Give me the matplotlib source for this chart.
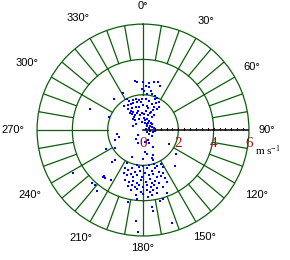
import numpy as np
import matplotlib
matplotlib.use('Agg')
import matplotlib.pyplot as plt

plt.rcParams['mathtext.default'] = 'regular'

# 风的东西向分量 u 和南北向分量 v (m/s)
u = [-0.45, -0.36, 0.02, 0.36, 0.64, 0.85, 0.98, 0.17, 0.36, -0.04, 0.08, 0.43, 0.21, 0.51,
     0.66, -1.11, -1.62, -0.92, -0.77, -0.58, -0.42, -0.25, -0.04, 0.17, 0.70, 0.91, 0.81,
     -1.06, -0.87, -0.68, -0.55, -0.34, -0.13, 0.36, 0.49, 0.62, 0.75, 0.92, -0.83, -0.60,
     -0.42, -0.25, 0.02, 0.21, 0.30, 0.55, 0.77, -0.74, -0.55, -0.45, -0.32, -0.17, -0.06,
     0.08, 0.26, 0.40, 0.51, 0.62, -0.58, -0.45, -0.23, 0.06, 0.25, 0.36, 0.43, -0.40, -0.08,
     0.11, 0.21, 0.53, 0.49, 0.62, 0.32, 0.17, -1.94, -3.00, -0.55,
     -0.70, -0.64, -0.50, -0.30, 0.15, 0.45, 0.10, 0.30, 0.40, 0.25,
     0.40, 0.55, 0.70, 0.36, 0.49, 0.21, 0.30, 0.11, 0.36, 0.55, -0.30, -0.42, -1.49, -1.34,
     -1.58, -0.26, -2.09, -1.57, 0.09, 0.21, 0.55, 0.49, 0.58, -0.62, -1.74, -1.58, -0.89,
     -0.02, 1.49, 1.87, 1.83,
     -0.36, -0.21, 0.02, 0.36, 0.62, 0.81, 1.00, 1.11, -1.02, -0.83, -0.64, -0.47, -0.17,
     0.21, 0.49, 0.70, 0.89, 1.15, -1.08, -0.92, -0.70, -0.55, -0.32, -0.08, 0.13, 0.36,
     0.58, 0.77, 1.04, 1.23, -1.00, -0.77, -0.55, -0.36, -0.09, 0.17, 0.40, 0.51, 0.70,
     0.92, 1.34, -0.87, -0.64, -0.45, -0.21, 0.02, 0.25, 0.43, 0.62, 0.77, 1.11, -0.66,
     -0.36, -0.13, 0.21, 0.40, 0.58, 0.77, -0.40, 0.02, 0.30, 0.49, 1.34, -0.32, -0.83,
     0.96, 1.15, 0.49, 0.58, 1.62, -0.40, -0.30,
     -3.98, -2.87, -2.74, -2.62, -2.21, -2.13, -2.28, -1.79]
v = [2.79, 2.70, 2.74, 2.68, 2.72, 2.72, 2.47, 2.51, 2.42, 2.30, 2.21, 2.23, 2.04, 2.06,
     1.94, 2.08, 1.77, 1.74, 1.66, 1.70, 1.74, 1.68, 1.77, 1.75, 1.74, 1.58, 1.83,
     1.36, 1.40, 1.47, 1.55, 1.58, 1.58, 1.62, 1.45, 1.32, 1.51, 1.28, 1.21, 1.23,
     1.32, 1.28, 1.40, 1.36, 1.23, 1.13, 1.19, 0.98, 1.04, 0.83, 0.94, 0.87, 0.94,
     0.89, 0.85, 0.94, 0.75, 0.87, 0.64, 0.55, 0.64, 0.70, 0.64, 0.53, 0.38, 0.36, 0.45,
     0.38, 0.23, 0.34, 0.17, 0.13, 0.09, 0.08, 0.72, 1.17, 0.21,
     1.10, 0.90, 0.75, 1.10, 1.10, 1.05, 0.55, 0.42, 0.25, 0.35,
     -0.08, -0.09, -0.06, -0.23, -0.34, -0.13, -0.57, -0.66, -0.75, -0.94, -0.28, -0.53, -0.23, -0.38,
     -0.57, -0.75, -1.06, -1.02, -1.23, -1.36, -1.43, -1.58, -1.72, -1.51, -1.81, -1.70, -1.85,
     -1.66, -0.81, -1.38, -2.02,
     -2.00, -2.08, -2.04, -1.96, -1.92, -2.02, -1.94, -2.11, -2.17, -2.26, -2.17, -2.36, -2.30,
     -2.17, -2.30, -2.17, -2.36, -2.45, -2.45, -2.55, -2.49, -2.64, -2.55, -2.64, -2.45, -2.55,
     -2.49, -2.64, -2.60, -2.74, -2.83, -2.92, -2.87, -2.98, -2.83, -2.92, -2.79, -2.98, -2.87,
     -2.98, -2.92, -3.17, -3.11, -3.21, -3.11, -3.21, -3.13, -3.25, -3.13, -3.30, -3.21, -3.40,
     -3.36, -3.49, -3.40, -3.49, -3.40, -3.58, -3.68, -3.62, -3.77, -3.68, -3.58, -3.89, -4.09,
     -4.02, -3.92, -4.38, -4.57, -5.28, -5.13, -5.75,
     -2.42, -3.02, -3.09, -3.43, -2.58, -2.74, -2.68, -2.85]

ring_values = [0, 2, 4, 6]
dir_labels = ['0°', '30°', '60°', '90°', '120°', '150°', '180°', '210°', '240°', '270°', '300°', '330°']

green = '#0b5e0b'
u = np.array(u)
v = np.array(v)
direction = np.arctan2(u, v)  # 风向，从北顺时针
speed = np.hypot(u, v)

fig = plt.figure(figsize=(2.9, 2.6), dpi=100)
ax = fig.add_axes([0.1276, 0.0923, 0.731, 0.815], projection='polar')
ax.set_theta_zero_location('N')
ax.set_theta_direction(-1)
ax.set_ylim(0, 6)
ax.grid(False)
ax.set_xticks([])
ax.set_yticks([])
ax.spines['polar'].set_color(green)
ax.spines['polar'].set_linewidth(0.9)

# 圆环
th = np.linspace(0, 2 * np.pi, 721)
for r in (2, 4):
    ax.plot(th, np.full_like(th, r), color=green, lw=0.9, zorder=1)

# 径向线
for a in range(0, 360, 10):
    if a == 90:
        continue
    ax.plot([np.radians(a)] * 2, [4, 6], color=green, lw=0.9, zorder=1)
for a in range(0, 360, 30):
    if a == 90:
        continue
    ax.plot([np.radians(a)] * 2, [2, 4], color=green, lw=0.9, zorder=1)

# 散点
ax.scatter(direction, speed, s=2.6, marker='s', color='#0000ff', linewidths=0,
           antialiased=False, zorder=2)

# 速度轴
ax.plot([np.pi / 2] * 2, [0, 6], color='black', lw=1.1, zorder=3)
for d in np.arange(1, 18) / 3.0:
    h = 0.1
    ax.plot([np.pi / 2, np.arctan2(d, h)], [d, np.hypot(d, h)], color='black', lw=0.7, zorder=3)

for rv in ring_values:
    ax.annotate(str(rv), xy=(np.pi / 2, rv), xytext=(0, -13), textcoords='offset pixels',
                ha='center', va='center', color='#a01515', fontsize=11,
                family='Liberation Serif', zorder=4)

label_r = [7.0, 7.15, 7.1, 7.0, 7.4, 7.0, 6.7, 7.05, 7.4, 7.35, 7.6, 7.3]
for i, lab in enumerate(dir_labels):
    ax.text(np.radians(i * 30), label_r[i], lab, ha='center', va='center', fontsize=8,
            family='Liberation Sans', clip_on=False)

fig.text(255 / 290, 1 - 151 / 260, 'm s$^{-1}$', ha='left', va='center', fontsize=8,
         family='Liberation Serif')

fig.savefig('out.png', dpi=100)
